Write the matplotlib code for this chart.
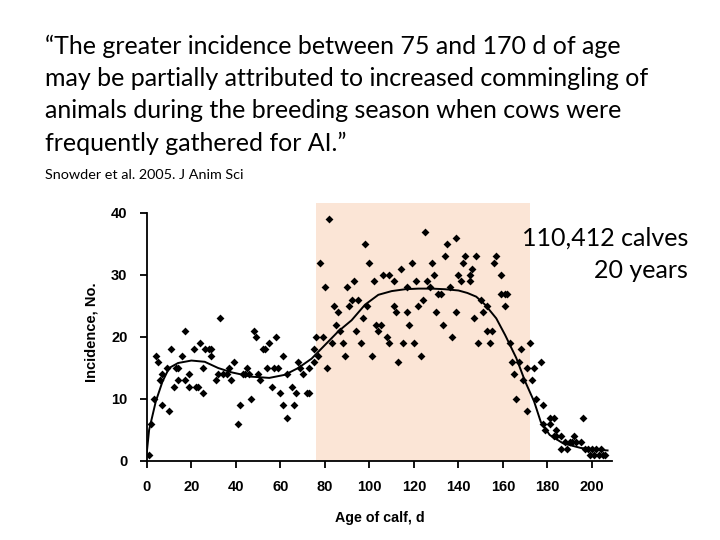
import numpy as np
import matplotlib.pyplot as plt

# daily incidence (age in days, number of cases)
age = [1, 2, 3, 4, 5, 6, 7, 7, 9, 10, 11, 12, 13, 14, 14, 16, 17, 17, 19, 19,
       21, 22, 23, 24, 25, 25, 26, 28, 29, 29, 31, 32, 33, 34, 36, 37, 38, 39, 41, 42,
       43, 44, 45, 46, 47, 48, 49, 50, 51, 52, 53, 54, 55, 56, 57, 58, 59, 60, 61, 61,
       63, 63, 65, 66, 67, 68, 69, 70, 72, 73, 73, 75, 75, 76, 77, 78, 79, 80, 81, 82,
       83, 84, 85, 86, 87, 88, 89, 90, 91, 92, 93, 94, 95, 96, 97, 98, 99, 100, 101, 102,
       103, 104, 105, 106, 108, 109, 109, 111, 111, 112, 113, 114, 115, 117, 117, 118, 119, 120, 121, 122,
       123, 124, 125, 126, 127, 128, 129, 130, 131, 132, 133, 134, 135, 136, 137, 139, 139, 140, 141, 142,
       143, 145, 145, 146, 147, 148, 149, 150, 151, 153, 153, 154, 155, 156, 157, 159, 159, 161, 162, 161,
       163, 164, 165, 166, 167, 168, 169, 171, 171, 172, 173, 174, 175, 177, 178, 178, 179, 181, 181, 183,
       184, 183, 184, 186, 186, 188, 189, 190, 191, 192, 193, 195, 196, 197, 198, 199, 200, 201, 202, 203,
       204, 205, 206]
cases = [1, 6, 10, 17, 16, 13, 9, 14, 15, 8, 18, 12, 15, 15, 13, 17, 21, 13, 14, 12,
         18, 12, 12, 19, 15, 11, 18, 18, 17, 18, 13, 14, 23, 14, 14, 15, 13, 16, 6, 9,
         14, 14, 15, 14, 10, 21, 20, 14, 13, 18, 18, 15, 19, 12, 15, 20, 15, 11, 17, 9,
         7, 14, 12, 9, 11, 16, 15, 14, 11, 11, 15, 16, 18, 20, 17, 32, 20, 28, 15, 39,
         19, 25, 22, 24, 21, 19, 17, 28, 25, 26, 29, 21, 26, 19, 23, 35, 25, 32, 17, 29,
         22, 21, 22, 30, 20, 19, 30, 29, 25, 24, 16, 31, 19, 28, 24, 22, 32, 19, 29, 25,
         17, 26, 37, 29, 28, 32, 30, 24, 27, 27, 22, 33, 35, 28, 20, 24, 36, 30, 29, 32,
         33, 30, 29, 31, 23, 33, 19, 26, 24, 25, 21, 19, 21, 32, 33, 30, 27, 27, 27, 25,
         19, 16, 14, 10, 16, 18, 13, 15, 8, 19, 13, 15, 10, 16, 9, 6, 5, 7, 6, 7,
         5, 4, 4, 4, 2, 3, 2, 3, 3, 4, 3, 3, 7, 2, 2, 1, 2, 1, 2, 1,
         2, 1, 1]

# fitted curve
fit_age = [0, 1, 4, 7, 10, 14, 20, 26, 32, 38, 47, 55, 62, 68, 74, 80, 86, 92, 98, 104,
           110, 116, 122, 128, 134, 140, 144, 148, 152, 157, 161, 166, 170, 174, 177, 181, 187, 195, 203, 207]
fit_val = [1.5, 5, 9.6, 12.8, 15, 15.8, 16.2, 16, 15, 14.3, 13.6, 13.4, 13.9, 15, 16.5, 18.7, 20.9, 22.7, 25.2, 26.8,
           27.4, 27.7, 27.8, 27.8, 27.7, 27.5, 27.1, 26.5, 25.2, 23, 20.3, 16.6, 12.8, 9.6, 6.3, 4.2, 2.85, 2.1, 1.8, 1.7]

# breeding season window
season = [76, 172]

fig = plt.figure(figsize=(7.2, 5.4), dpi=100)
ax = fig.add_axes([0.204, 0.1463, 0.646, 0.4777])

ax.fill_between(season, 0, 41.6, color='#FBE5D6', lw=0, zorder=0)
ax.plot(fit_age, fit_val, color='black', lw=1.4, zorder=2)
ax.scatter(age, cases, marker='D', s=16, color='black', lw=0, zorder=3)

ax.set_xlim(0, 209)
ax.set_ylim(0, 41.6)
ax.set_xticks(range(0, 201, 20))
ax.set_yticks(range(0, 41, 10))
ax.spines['top'].set_visible(False)
ax.spines['right'].set_visible(False)
ax.spines['left'].set_bounds(0, 40)
ax.spines['left'].set_linewidth(1.3)
ax.spines['bottom'].set_linewidth(1.3)
ax.tick_params(length=5, width=1.3, pad=9)
for lab in ax.get_xticklabels() + ax.get_yticklabels():
    lab.set_fontfamily('Liberation Sans')
    lab.set_fontweight('bold')
    lab.set_fontsize(10.5)
ax.set_xlabel('Age of calf, d', fontfamily='Liberation Sans', fontweight='bold',
              fontsize=10.3, labelpad=12)
ax.set_ylabel('Incidence, No.', fontfamily='Liberation Sans', fontweight='bold',
              fontsize=10.5, labelpad=9)

quote = ['\u201cThe greater incidence between 75 and 170 d of age',
         'may be partially attributed to increased commingling of',
         'animals during the breeding season when cows were',
         'frequently gathered for AI.\u201d']
for i, line in enumerate(quote):
    fig.text(45 / 720, 1 - (46 + 32.5 * i) / 540, line, fontfamily='Lato',
             fontsize=18, va='center', ha='left')
fig.text(45 / 720, 1 - 175 / 540, 'Snowder et al. 2005. J Anim Sci',
         fontfamily='Lato', fontsize=10.4, va='center', ha='left')

fig.text(688 / 720, 1 - 238 / 540, '110,412 calves', fontfamily='Lato',
         fontsize=18, va='center', ha='right')
fig.text(688 / 720, 1 - 270 / 540, '20 years', fontfamily='Lato',
         fontsize=18, va='center', ha='right')

fig.savefig('out.png', dpi=100)
